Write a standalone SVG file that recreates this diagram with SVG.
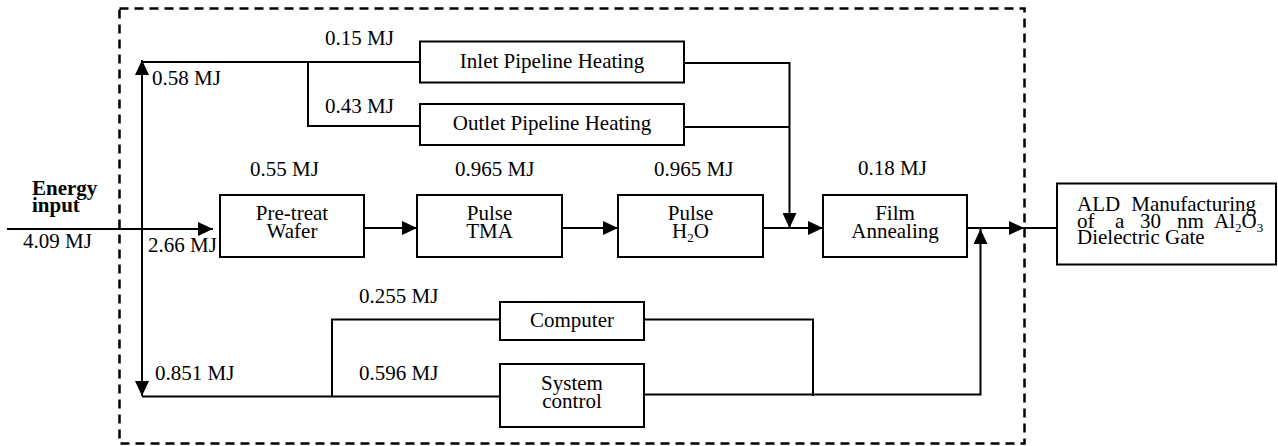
<svg xmlns="http://www.w3.org/2000/svg" width="1278" height="446" viewBox="0 0 1278 446">
  <style>
    .box { fill: #fff; stroke: #000; stroke-width: 2; }
    .ln { fill: none; stroke: #000; stroke-width: 2; }
    text { font-family: 'Liberation Serif', 'DejaVu Serif', serif; font-size: 21px; fill: #000; }
    .c { text-anchor: middle; }
    .b { font-weight: bold; }
    .sub { font-size: 13px; }
  </style>
  <defs>
    <marker id="arr" markerUnits="userSpaceOnUse" markerWidth="16" markerHeight="14" refX="15" refY="7" orient="auto-start-reverse">
      <path d="M0,0 L15,7 L0,14 Z" fill="#000"/>
    </marker>
  </defs>

  <!-- system boundary -->
  <rect id="boundary" x="119.5" y="8.5" width="905" height="435" fill="none" stroke="#000" stroke-width="2.5" stroke-dasharray="9 6"/>

  <g id="connectors">
    <!-- energy input -->
    <line class="ln" x1="7" y1="229" x2="213" y2="229" marker-end="url(#arr)"/>
    <!-- distribution trunk -->
    <line class="ln" x1="142" y1="60" x2="142" y2="396" marker-start="url(#arr)" marker-end="url(#arr)"/>
    <polyline class="ln" points="142,62 420,62"/>
    <polyline class="ln" points="308,62 308,126 420,126"/>
    <polyline class="ln" points="142,396.5 500,396.5"/>
    <polyline class="ln" points="332,396.5 332,319.5 500,319.5"/>
    <!-- pipeline heating returns -->
    <polyline class="ln" points="684,63 789.5,63 789.5,228" marker-end="url(#arr)"/>
    <polyline class="ln" points="684,127 789.5,127"/>
    <!-- process chain -->
    <line class="ln" x1="364" y1="228" x2="417" y2="228" marker-end="url(#arr)"/>
    <line class="ln" x1="562" y1="228" x2="618" y2="228" marker-end="url(#arr)"/>
    <line class="ln" x1="763" y1="228" x2="823" y2="228" marker-end="url(#arr)"/>
    <line class="ln" x1="967" y1="228" x2="1024" y2="228" marker-end="url(#arr)"/>
    <line class="ln" x1="1024" y1="228" x2="1057" y2="228"/>
    <!-- control returns -->
    <polyline class="ln" points="644,319.5 813,319.5 813,396"/>
    <polyline class="ln" points="644,394.5 980.5,394.5 980.5,229" marker-end="url(#arr)"/>
  </g>

  <!-- flow labels -->
  <g id="labels">
    <text class="b" x="32" y="195">Energy</text>
    <text class="b" x="32" y="212">input</text>
    <text x="23" y="248">4.09 MJ</text>
    <text x="148" y="252">2.66 MJ</text>
    <text x="152" y="85">0.58 MJ</text>
    <text x="325" y="45">0.15 MJ</text>
    <text x="325" y="113">0.43 MJ</text>
    <text x="250" y="176">0.55 MJ</text>
    <text x="455" y="176">0.965 MJ</text>
    <text x="654" y="176">0.965 MJ</text>
    <text x="858" y="175">0.18 MJ</text>
    <text x="359" y="303">0.255 MJ</text>
    <text x="155" y="380">0.851 MJ</text>
    <text x="359" y="380">0.596 MJ</text>
  </g>

  <g id="inlet-heating">
    <rect class="box" x="420" y="41.5" width="264" height="41"/>
    <text class="c" x="552" y="68">Inlet Pipeline Heating</text>
  </g>
  <g id="outlet-heating">
    <rect class="box" x="420" y="104" width="264" height="41"/>
    <text class="c" x="552" y="129.5">Outlet Pipeline Heating</text>
  </g>
  <g id="pretreat">
    <rect class="box" x="220" y="195" width="144" height="62"/>
    <text class="c" x="292" y="220">Pre-treat</text>
    <text class="c" x="292" y="238">Wafer</text>
  </g>
  <g id="pulse-tma">
    <rect class="box" x="417" y="195" width="145" height="62"/>
    <text class="c" x="489.5" y="220">Pulse</text>
    <text class="c" x="489.5" y="238">TMA</text>
  </g>
  <g id="pulse-h2o">
    <rect class="box" x="618" y="195" width="145" height="62"/>
    <text class="c" x="690.5" y="220">Pulse</text>
    <text class="c" x="690.5" y="238">H<tspan class="sub" dy="4">2</tspan><tspan dy="-4">O</tspan></text>
  </g>
  <g id="annealing">
    <rect class="box" x="823" y="195" width="144" height="62"/>
    <text class="c" x="895" y="220">Film</text>
    <text class="c" x="895" y="238">Annealing</text>
  </g>
  <g id="computer">
    <rect class="box" x="500" y="302" width="144" height="38"/>
    <text class="c" x="572" y="327">Computer</text>
  </g>
  <g id="system-control">
    <rect class="box" x="500" y="364" width="144" height="63"/>
    <text class="c" x="572" y="390">System</text>
    <text class="c" x="572" y="408">control</text>
  </g>
  <g id="product">
    <rect class="box" x="1057" y="183.5" width="219" height="81"/>
    <!-- justified lines: words placed one by one -->
    <text x="1077" y="211">ALD</text>
    <text x="1256" y="211" text-anchor="end">Manufacturing</text>
    <text x="1077" y="228">of</text>
    <text x="1115" y="228">a</text>
    <text x="1140" y="228">30</text>
    <text x="1177" y="228">nm</text>
    <text x="1214" y="228">Al<tspan class="sub" dy="4">2</tspan><tspan dy="-4">O</tspan><tspan class="sub" dy="4">3</tspan></text>
    <text x="1077" y="244">Dielectric Gate</text>
  </g>
</svg>
